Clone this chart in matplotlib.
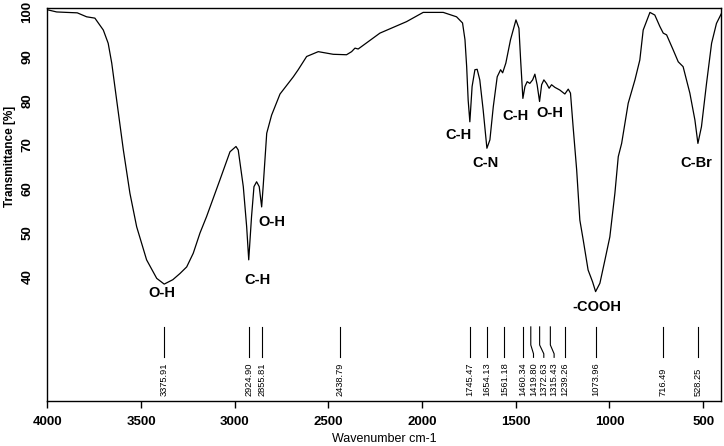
import matplotlib
matplotlib.use("Agg")
import matplotlib.pyplot as plt

# spectrum (wavenumber cm-1, transmittance %)
wavenumber = [4000, 3950, 3897, 3840, 3790, 3746, 3701, 3675, 3656, 3630, 3594,
              3559, 3523, 3470, 3416, 3376, 3330, 3292, 3256, 3221, 3185, 3150,
              3079, 3025, 2993, 2981, 2954, 2936, 2925, 2910, 2897, 2883, 2869,
              2856, 2848, 2829, 2803, 2758, 2687, 2661, 2616, 2554, 2474, 2403,
              2376, 2358, 2341, 2225, 2083, 1994, 1887, 1816, 1784, 1771, 1762,
              1754, 1745, 1733, 1718, 1706, 1692, 1674, 1654, 1638, 1620, 1599,
              1581, 1570, 1553, 1528, 1499, 1483, 1474, 1462, 1451, 1439, 1425,
              1410, 1398, 1386, 1373, 1362, 1350, 1336, 1322, 1309, 1291, 1265,
              1238, 1220, 1208, 1194, 1175, 1158, 1140, 1114, 1090, 1074, 1051,
              1024, 998, 971, 953, 935, 900, 864, 838, 820, 784, 758, 731, 713,
              695, 660, 633, 607, 571, 544, 528, 509, 482, 455, 429, 402]
transmittance = [100.6, 100.1, 100.0, 99.9, 99.0, 98.7, 96.0, 93.0, 88.5, 80.2, 68.8,
                 59.0, 51.4, 43.9, 39.7, 38.4, 39.4, 40.8, 42.3, 45.4, 50.0, 53.7,
                 62.0, 68.4, 69.6, 68.8, 60.5, 51.4, 43.9, 53.7, 60.5, 61.6, 60.5,
                 55.9, 60.5, 72.6, 76.7, 81.5, 85.4, 87.0, 90.0, 91.1, 90.5, 90.4,
                 91.1, 91.9, 91.7, 95.3, 97.9, 100.0, 100.0, 99.0, 97.6, 93.8, 87.7,
                 80.1, 75.2, 83.2, 87.0, 87.1, 84.7, 77.9, 69.2, 71.1, 78.6, 85.4,
                 87.0, 86.3, 88.5, 93.8, 98.3, 96.4, 89.2, 80.5, 83.2, 84.3, 83.9,
                 84.7, 86.0, 83.6, 79.8, 83.6, 84.7, 83.9, 82.8, 83.6, 83.0, 82.4,
                 81.5, 82.6, 81.7, 74.1, 64.3, 52.9, 48.4, 41.6, 38.9, 36.7, 38.6,
                 43.9, 49.1, 59.0, 67.3, 70.3, 79.4, 84.7, 89.2, 96.0, 100.0, 99.4, 96.8, 95.3,
                 94.9, 91.5, 88.8, 87.7, 81.7, 75.6, 70.3, 74.1, 83.9, 93.0, 97.5, 99.8]

peaks = [3375.91, 2924.90, 2855.81, 2438.79, 1745.47, 1654.13, 1561.18,
         1460.34, 1419.80, 1372.63, 1315.43, 1239.26, 1073.96, 716.49, 528.25]

groups = ["O-H", "C-H", "O-H", "C-H", "C-N", "C-H", "O-H", "-COOH", "C-Br"]
group_x = [3390, 2878, 2801, 1806, 1659, 1499, 1318, 1067, 539]
group_y = [36.4, 39.3, 52.5, 72.3, 65.9, 76.6, 77.2, 33.2, 65.9]

plt.rcParams['font.family'] = ['Liberation Sans', 'DejaVu Sans']

fig = plt.figure(figsize=(7.24, 4.46), dpi=100)
ax = fig.add_axes([0.0653, 0.1009, 0.9305, 0.8812])

ax.plot(wavenumber, transmittance, color="black", lw=0.9)

# peak pick markers, crowded labels pushed apart
min_gap = 55
label_x = []
for p in peaks:
    if label_x and label_x[-1] - p < min_gap:
        label_x.append(label_x[-1] - min_gap)
    else:
        label_x.append(p)
for p, lx in zip(peaks, label_x):
    ax.plot([p, p, lx, lx], [28.7, 24.6, 22.6, 21.8], color="black", lw=0.8)
    ax.text(lx, 13.0, f"{p:.2f}", rotation=90, ha="center", va="bottom",
            fontsize=6.7)

for g, gx, gy in zip(groups, group_x, group_y):
    ax.text(gx, gy, g, ha="center", va="center", fontsize=10.5,
            fontweight="bold")

ax.set_xlim(4000, 405)
ax.set_ylim(11.9, 101.0)
ax.set_xticks([4000, 3500, 3000, 2500, 2000, 1500, 1000, 500])
ax.set_yticks([40, 50, 60, 70, 80, 90, 100])
ax.tick_params(axis="x", length=5, width=1, pad=6, labelsize=9.5)
ax.tick_params(axis="y", length=0, pad=10, labelsize=9.5)
for lab in ax.get_xticklabels() + ax.get_yticklabels():
    lab.set_fontweight("bold")
for lab in ax.get_yticklabels():
    lab.set_rotation(90)
    lab.set_va("center")
for s in ax.spines.values():
    s.set_linewidth(1.0)

ax.set_xlabel("Wavenumber cm-1", fontsize=9)
ax.xaxis.set_label_coords(0.5, -0.082)
ax.set_ylabel("Transmittance [%]", fontsize=8.5, fontweight="bold")
ax.yaxis.set_label_coords(-0.047, 0.621)

fig.savefig("out.png", dpi=100)
